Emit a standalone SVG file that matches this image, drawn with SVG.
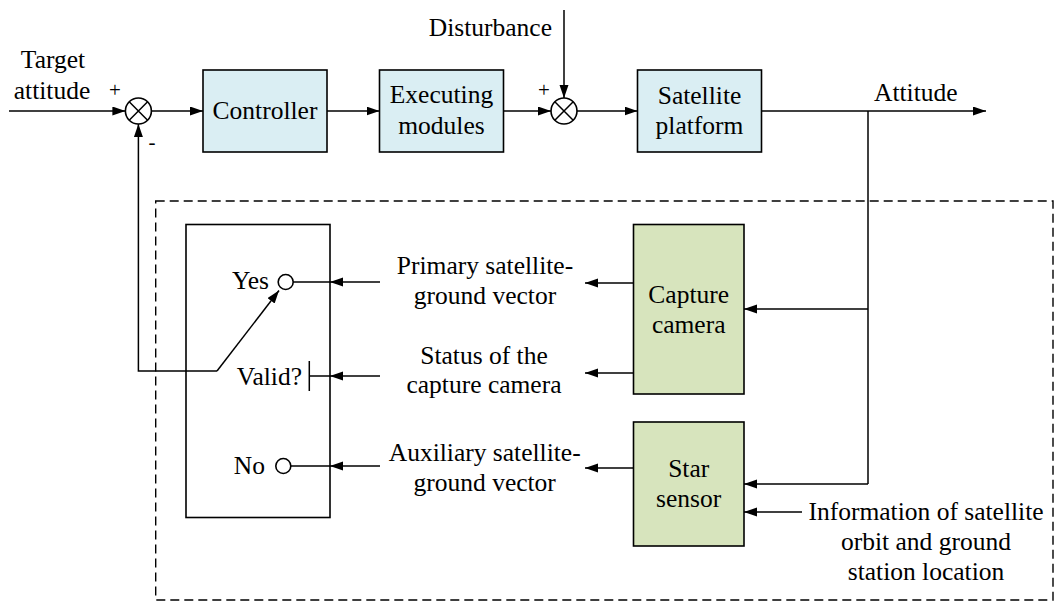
<svg xmlns="http://www.w3.org/2000/svg" width="1055" height="603" viewBox="0 0 1055 603">
<defs>
<marker id="ah" markerUnits="userSpaceOnUse" markerWidth="14" markerHeight="10" refX="13" refY="4.5" orient="auto">
<path d="M0,0 L13,4.5 L0,9 z" fill="#000"/>
</marker>
<style>
text{font-family:"Liberation Serif","Times New Roman",serif;font-size:25.5px;fill:#000}
.c{text-anchor:middle}
.e{text-anchor:end}
.sign{font-size:21px}
.blk{fill:#DAEEF3;stroke:#000;stroke-width:1.6}
.grn{fill:#D7E4BD;stroke:#000;stroke-width:1.6}
.wb{fill:#fff;stroke:#000;stroke-width:1.6}
.ln{fill:none;stroke:#000;stroke-width:1.5}
.arr{fill:none;stroke:#000;stroke-width:1.5;marker-end:url(#ah)}
.dash{fill:none;stroke:#000;stroke-width:1.4;stroke-dasharray:9 5}
</style>
</defs>
<rect id="boundary" class="dash" x="155.7" y="201" width="897.3" height="399"/>
<g id="sum1">
<circle cx="138.4" cy="111" r="13" class="wb"/>
<path class="ln" d="M129.2,101.8 L147.6,120.2 M147.6,101.8 L129.2,120.2"/>
<text class="sign c" x="115" y="97">+</text>
<text class="sign c" x="152" y="149">-</text>
</g>
<g id="sum2">
<circle cx="564" cy="111" r="13" class="wb"/>
<path class="ln" d="M554.8,101.8 L573.2,120.2 M573.2,101.8 L554.8,120.2"/>
<text class="sign c" x="544" y="97">+</text>
</g>
<g id="controller">
<rect class="blk" x="203" y="70" width="124" height="82"/>
<text class="c" x="265" y="119">Controller</text>
</g>
<g id="executing">
<rect class="blk" x="379.5" y="70" width="124" height="82"/>
<text class="c" x="441.5" y="103">Executing</text>
<text class="c" x="441.5" y="134">modules</text>
</g>
<g id="satellite">
<rect class="blk" x="637.5" y="70" width="124" height="82"/>
<text class="c" x="699.5" y="104">Satellite</text>
<text class="c" x="699.5" y="134">platform</text>
</g>
<g id="camera">
<rect class="grn" x="633.5" y="224.5" width="110.5" height="169.5"/>
<text class="c" x="688.7" y="303">Capture</text>
<text class="c" x="688.7" y="333">camera</text>
</g>
<g id="star">
<rect class="grn" x="633.5" y="422" width="110.5" height="124"/>
<text class="c" x="688.7" y="477">Star</text>
<text class="c" x="688.7" y="507">sensor</text>
</g>
<g id="switch">
<rect class="wb" x="186" y="224.5" width="144" height="293"/>
<circle cx="285.7" cy="282" r="7.5" class="wb"/>
<circle cx="283.3" cy="466" r="7.5" class="wb"/>
<path class="ln" d="M293.2,282 H330 M309.3,361 V391 M309.3,376 H330 M290.8,466 H330"/>
<text class="e" x="269" y="289">Yes</text>
<text class="e" x="302" y="385">Valid?</text>
<text class="e" x="265" y="474">No</text>
</g>
<g id="labels">
<text class="c" x="53" y="67.5">Target</text>
<text class="c" x="52" y="98.5">attitude</text>
<text class="e" x="552" y="36">Disturbance</text>
<text x="874" y="101">Attitude</text>
<text class="c" x="485" y="274">Primary satellite-</text>
<text class="c" x="485" y="304">ground vector</text>
<text class="c" x="484" y="364">Status of the</text>
<text class="c" x="484" y="393">capture camera</text>
<text class="c" x="484.7" y="461">Auxiliary satellite-</text>
<text class="c" x="484.7" y="491">ground vector</text>
<text class="c" x="926" y="520">Information of satellite</text>
<text class="c" x="926" y="550">orbit and ground</text>
<text class="c" x="926" y="580">station location</text>
</g>
<g id="connectors">
<path class="arr" d="M9,111 H125.4"/>
<path class="arr" d="M151.4,111 H203"/>
<path class="arr" d="M327,111 H379.5"/>
<path class="arr" d="M503.5,111 H551"/>
<path class="arr" d="M564,10 V98"/>
<path class="arr" d="M577,111 H637.5"/>
<path class="arr" d="M761.5,111 H986"/>
<path class="ln" d="M868,111 V484"/>
<path class="arr" d="M868,309 H744"/>
<path class="arr" d="M868,484 H744"/>
<path class="arr" d="M802,512 H744"/>
<path class="arr" d="M633.5,283 H585"/>
<path class="arr" d="M633.5,373 H585"/>
<path class="arr" d="M633.5,468 H585"/>
<path class="arr" d="M380,282 H330"/>
<path class="arr" d="M380,376 H330"/>
<path class="arr" d="M380,466 H330"/>
<path class="arr" d="M217,371 L279,290.5"/>
<path class="arr" d="M217,371 H138.4 V124"/>
</g>
</svg>
